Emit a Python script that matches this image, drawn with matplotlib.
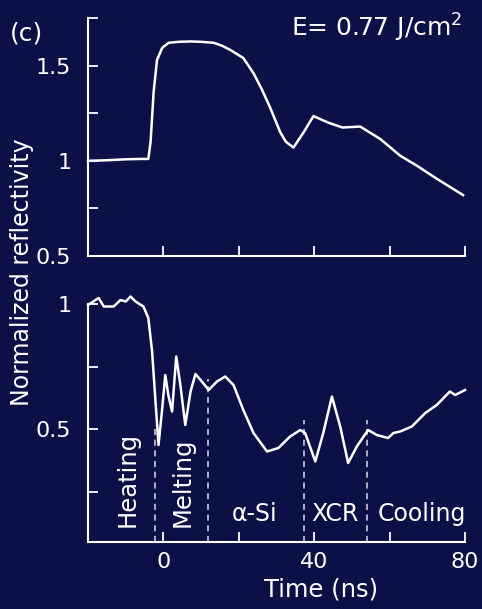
import matplotlib
matplotlib.use("Agg")
import matplotlib.pyplot as plt
from matplotlib.ticker import MultipleLocator

# ---- data ----
t_top = [-20, -15, -10, -6, -4, -3.4, -2.6, -1.7, -0.3, 1.4, 4, 7.2, 10, 13.3, 15.5, 17.7,
         21.2, 23.9, 26, 28.3, 31, 32.5, 34.5, 37.2, 39.8, 43.8, 47.5, 52.2, 57.5,
         62.8, 67.2, 72.5, 79.5]
r_top = [1.0, 1.003, 1.008, 1.01, 1.01, 1.10, 1.36, 1.53, 1.594, 1.62, 1.625, 1.627, 1.625,
         1.62, 1.605, 1.583, 1.54, 1.46, 1.38, 1.28, 1.15, 1.10, 1.07, 1.15, 1.235, 1.20,
         1.175, 1.18, 1.115, 1.027, 0.975, 0.906, 0.82]

t_bot = [-20, -17.2, -15.8, -13.2, -11.4, -10, -8.7, -7.4, -5.3, -4, -3, -2.1, -1.3, -0.4,
         0.5, 1.3, 2.3, 3.4, 4.5, 5.8, 7.2, 8.5, 10.2, 12, 14.2, 16.4, 18.6, 21.2, 23.9,
         27.5, 30.5, 33.6, 36.3, 37.6, 40.3, 42.4, 44.7, 46.9, 49, 51.3, 54.3, 56.6, 59.6,
         61, 62.8, 65.9, 69.4, 72.5, 76, 77.4, 80]
r_bot = [0.996, 1.024, 0.99, 0.99, 1.016, 1.01, 1.03, 1.01, 0.99, 0.944, 0.81, 0.61, 0.436,
         0.57, 0.716, 0.636, 0.57, 0.79, 0.676, 0.516, 0.65, 0.72, 0.69, 0.656, 0.69, 0.71,
         0.676, 0.576, 0.484, 0.41, 0.424, 0.47, 0.496, 0.484, 0.37, 0.484, 0.63, 0.51,
         0.364, 0.43, 0.496, 0.476, 0.464, 0.484, 0.49, 0.51, 0.563, 0.596, 0.65, 0.636,
         0.656]

phase_bounds = [-2.1, 11.8, 37.4, 54.0]
phase_tops = [0.51, 0.70, 0.536, 0.536]
phase_names = ["Heating", "Melting", "α-Si", "XCR", "Cooling"]
phase_x = [-9.4, 5.2, 24.1, 45.6, 68.6]
phase_rot = [90, 90, 0, 0, 0]

x_ticks = [0, 40, 80]
energy_label = "E= 0.77 J/cm$^2$"
panel_label = "(c)"

# ---- style ----
BG = "#0b1046"
FG = "white"
plt.rcParams["font.family"] = ["DejaVu Sans"]
plt.rcParams["mathtext.fontset"] = "dejavusans"

fig = plt.figure(figsize=(4.82, 6.09), dpi=100, facecolor=BG)
ax1 = fig.add_axes([0.1826, 0.5796, 0.7821, 0.3908], facecolor=BG)
ax2 = fig.add_axes([0.1826, 0.1100, 0.7821, 0.3908], facecolor=BG)

for ax in (ax1, ax2):
    for s in ("top", "right"):
        ax.spines[s].set_visible(False)
    for s in ("left", "bottom"):
        ax.spines[s].set_color(FG)
        ax.spines[s].set_linewidth(1.5)
    ax.set_xlim(-20, 80)
    ax.xaxis.set_major_locator(MultipleLocator(40))
    ax.xaxis.set_minor_locator(MultipleLocator(20))
    ax.yaxis.set_major_locator(MultipleLocator(0.5))
    ax.yaxis.set_minor_locator(MultipleLocator(0.25))
    ax.tick_params(which="both", direction="in", color=FG, width=1.3, length=7,
                   labelcolor=FG, labelsize=16)
    ax.tick_params(axis="y", pad=12)
    ax.tick_params(axis="x", pad=7)
    ax.yaxis.set_major_formatter(plt.FuncFormatter(lambda v, p: f"{v:g}"))

ax1.set_ylim(0.5, 1.75)
ax1.tick_params(axis="x", labelbottom=False)
ax1.plot(t_top, r_top, color=FG, lw=1.8, clip_on=False)

ax2.set_ylim(0.048, 1.0)
ax2.set_yticks([0.5, 1.0])
ax2.set_xticks(x_ticks)
ax2.plot(t_bot, r_bot, color=FG, lw=1.8, clip_on=False)
for xb, yt in zip(phase_bounds, phase_tops):
    ax2.plot([xb, xb], [0.048, yt], color=FG, lw=1.1, ls=(0, (4, 3)), alpha=0.85)
for name, xp, rot in zip(phase_names, phase_x, phase_rot):
    if rot == 90:
        ax2.text(xp, 0.108, name, color=FG, fontsize=17.5, rotation=90,
                 ha="center", va="bottom")
    else:
        ax2.text(xp, 0.16, name, color=FG, fontsize=17, ha="center", va="center")

ax2.set_xlabel("Time (ns)", color=FG, fontsize=17.5)
ax2.xaxis.set_label_coords(0.618, -0.20)
ax2.xaxis.label.set_va("center")
fig.text(0.0456, 1 - 272 / 609, "Normalized reflectivity", color=FG, fontsize=17,
         rotation=90, ha="center", va="center")
fig.text(26 / 482, 1 - 33 / 609, panel_label, color=FG, fontsize=18, ha="center",
         va="center")
fig.text(377 / 482, 1 - 28 / 609, energy_label, color=FG, fontsize=18, ha="center",
         va="center")

fig.savefig("out.png", dpi=100, facecolor=BG)
